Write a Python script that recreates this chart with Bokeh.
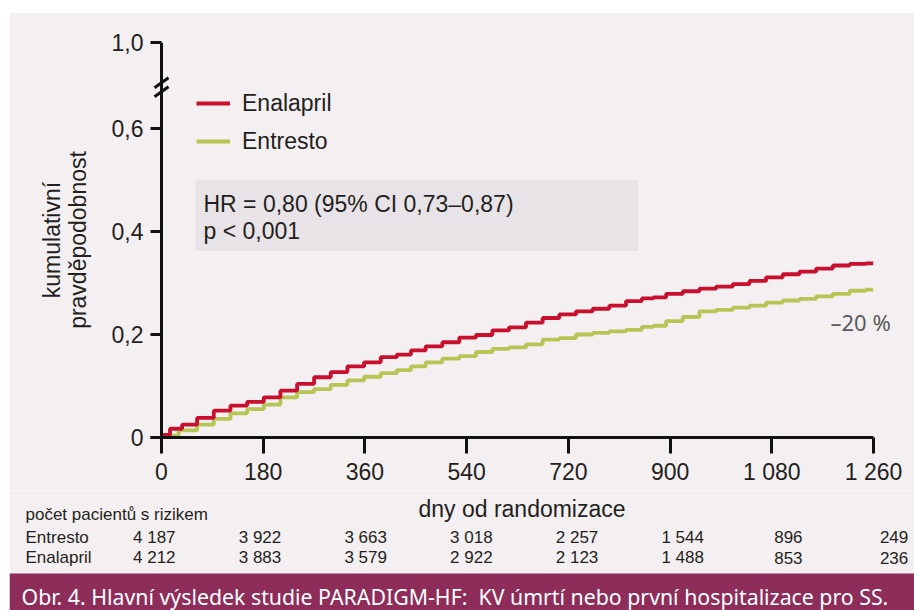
from bokeh.plotting import figure
from bokeh.models import (Range1d, FixedTicker, Legend, LegendItem, BoxAnnotation, Span, LinearAxis, Spacer)
from bokeh.layouts import column, row
from bokeh.core.properties import value
from bokeh.embed import file_html
from bokeh.resources import INLINE

# ---------------- data ----------------
enalapril_days = [0, 5, 25, 48, 78, 107, 137, 166, 196, 225, 255, 285, 314, 344, 373, 403, 430, 453, 482, 512,
                  542, 571, 600, 630, 660, 689, 719, 748, 778, 807, 837, 863, 878, 908, 937, 967, 996, 1026, 1055,
                  1085, 1114, 1144, 1173, 1203, 1233, 1260]
enalapril_prob = [0.0, 0.005, 0.017, 0.025, 0.038, 0.052, 0.062, 0.069, 0.078, 0.091, 0.104, 0.117, 0.127, 0.138,
                  0.146, 0.156, 0.161, 0.169, 0.177, 0.185, 0.194, 0.199, 0.208, 0.214, 0.223, 0.232, 0.239, 0.245,
                  0.250, 0.256, 0.265, 0.270, 0.272, 0.279, 0.284, 0.289, 0.293, 0.298, 0.304, 0.311, 0.317, 0.322,
                  0.328, 0.334, 0.337, 0.338]
entresto_days = [0, 13, 48, 78, 107, 137, 166, 196, 225, 255, 285, 314, 344, 373, 403, 430, 453, 482, 512, 542,
                 571, 600, 630, 660, 689, 719, 748, 778, 807, 837, 863, 878, 908, 937, 967, 996, 1026, 1055, 1085,
                 1114, 1144, 1173, 1203, 1233, 1260]
entresto_prob = [0.0, 0.004, 0.014, 0.025, 0.036, 0.047, 0.055, 0.064, 0.078, 0.088, 0.094, 0.102, 0.111, 0.118,
                 0.125, 0.131, 0.138, 0.146, 0.153, 0.158, 0.166, 0.172, 0.175, 0.181, 0.190, 0.193, 0.200, 0.203,
                 0.206, 0.209, 0.215, 0.217, 0.226, 0.234, 0.245, 0.248, 0.252, 0.256, 0.262, 0.266, 0.269, 0.274,
                 0.279, 0.285, 0.287]

x_ticks = [0, 180, 360, 540, 720, 900, 1080, 1260]
x_tick_labels = ["0", "180", "360", "540", "720", "900", "1 080", "1 260"]
y_ticks = [0, 0.2, 0.4, 0.6]
y_tick_labels = ["0", "0,2", "0,4", "0,6"]
y_top_label = "1,0"

risk_days = [0, 180, 360, 540, 720, 900, 1080, 1260]
risk_entresto = ["4 187", "3 922", "3 663", "3 018", "2 257", "1 544", "896", "249"]
risk_enalapril = ["4 212", "3 883", "3 579", "2 922", "2 123", "1 488", "853", "236"]

hr_lines = ["HR = 0,80 (95% CI 0,73–0,87)", "p < 0,001"]
reduction_text = "–20 %"
reduction_at = 0.225
caption = "Obr. 4. Hlavní výsledek studie PARADIGM-HF:\u00a0 KV úmrtí nebo první hospitalizace pro SS."

# ---------------- styles / layout ----------------
PANEL = "#f4eff1"
BOX = "#e8e3e6"
INK = "#231f20"
AXIS = "#111111"
RED = "#c8102e"
GREEN = "#b5c655"
BANNER = "#8e2d5a"
FONT = "Liberation Sans"
Y_TOP = 0.767            # position of the broken-axis "1,0" tick
PX_PER_DAY = 712 / 1260
PX_PER_UNIT = 395 / Y_TOP
X0 = -11 / PX_PER_DAY    # frame starts a little left of day 0 (room for tick marks / axis break)

W = 905
p = figure(width=W, height=478, x_range=Range1d(X0, 1260), y_range=Range1d(0, Y_TOP),
           min_border_left=141, min_border_right=41, min_border_top=30, min_border_bottom=53,
           toolbar_location=None, output_backend="svg")
p.frame_align = False
p.background_fill_color = PANEL
p.border_fill_color = PANEL
p.outline_line_color = None
p.xgrid.visible = False
p.ygrid.visible = False

# HR box
p.add_layout(BoxAnnotation(left=34 / PX_PER_DAY, right=477 / PX_PER_DAY,
                           bottom=186.6 / PX_PER_UNIT, top=257.3 / PX_PER_UNIT,
                           fill_color=BOX, fill_alpha=1, line_color=None, level="underlay"))
p.text(x=[42 / PX_PER_DAY] * 2, y=[233.7 / PX_PER_UNIT, 206.1 / PX_PER_UNIT], text=hr_lines,
       text_font=value(FONT), text_font_size="23px", text_color=INK, text_baseline="middle")

r_entr = p.step(entresto_days, entresto_prob, mode="center", line_color=GREEN, line_width=3.8)
r_enal = p.step(enalapril_days, enalapril_prob, mode="center", line_color=RED, line_width=3.8)

legend = Legend(items=[LegendItem(label="Enalapril", renderers=[r_enal]),
                       LegendItem(label="Entresto", renderers=[r_entr])],
                location=(46, 282), glyph_width=34, glyph_height=28, label_height=28,
                label_standoff=12, spacing=10, padding=0, margin=0,
                background_fill_alpha=0, border_line_color=None,
                label_text_font=FONT, label_text_font_size="23px", label_text_color=INK)
p.add_layout(legend)

# y axis line at day 0 and axis-break marks
p.add_layout(Span(location=0, dimension="height", line_width=3, line_color=AXIS))
brk = [354.8 / PX_PER_UNIT, 345.8 / PX_PER_UNIT]
p.segment(x0=[-7 / PX_PER_DAY] * 2, x1=[7 / PX_PER_DAY] * 2,
          y0=[b - 5 / PX_PER_UNIT for b in brk], y1=[b + 5 / PX_PER_UNIT for b in brk],
          line_width=3, line_color=AXIS)

# axes
xa = p.xaxis[0]
ya = p.yaxis[0]
xa.ticker = FixedTicker(ticks=x_ticks)
xa.major_label_overrides = dict(zip(x_ticks, x_tick_labels))
ya.ticker = FixedTicker(ticks=y_ticks + [Y_TOP])
ov = dict(zip(y_ticks, y_tick_labels))
ov[Y_TOP] = y_top_label
ya.major_label_overrides = ov
for ax in (xa, ya):
    ax.axis_line_width = 3
    ax.axis_line_color = AXIS
    ax.major_tick_line_width = 3
    ax.major_tick_line_color = AXIS
    ax.minor_tick_line_color = None
    ax.major_label_text_font = FONT
    ax.major_label_text_font_size = "23px"
    ax.major_label_text_color = INK
xa.major_tick_in = 0
xa.major_tick_out = 16
xa.major_label_standoff = 5
ya.axis_line_color = None
ya.major_tick_in = 11
ya.major_tick_out = 0
ya.major_label_standoff = 7
ya.axis_label = "kumulativní\npravděpodobnost"
ya.axis_label_text_font = FONT
ya.axis_label_text_font_size = "23px"
ya.axis_label_text_font_style = "normal"
ya.axis_label_text_line_height = 1.0
ya.axis_label_text_color = INK
ya.axis_label_standoff = 18

# "-20 %" annotation at the right end of the curves
ra = LinearAxis(ticker=FixedTicker(ticks=[reduction_at]),
                major_label_overrides={reduction_at: reduction_text},
                axis_line_color=None, major_tick_line_color=None, minor_tick_line_color=None,
                major_tick_in=0, major_tick_out=0, major_label_standoff=-43,
                major_label_text_font="Noto Sans", major_label_text_font_size="22px",
                major_label_text_color="#58595b")
p.add_layout(ra, "right")

# ---------------- risk table + caption (page coordinates) ----------------
t = figure(width=W, height=120, x_range=Range1d(9, 914), y_range=Range1d(610, 490),
           x_axis_type=None, y_axis_type=None, min_border=0,
           toolbar_location=None, output_backend="svg")
t.frame_align = False
t.background_fill_color = PANEL
t.border_fill_color = PANEL
t.outline_line_color = None

t.text(x=[521.5], y=[508.7], text=["dny od randomizace"], text_font=value(FONT), text_font_size="23px",
       text_color=INK, text_align="center", text_baseline="middle")
t.text(x=[25, 25, 25], y=[514, 536.7, 557.3], text=["počet pacientů s rizikem", "Entresto", "Enalapril"],
       text_font=value(FONT), text_font_size="17px", text_color=INK, text_baseline="middle")
col_x = [153.8 + d * 105.68 / 180 for d in risk_days]
t.text(x=col_x, y=[536.7] * len(col_x), text=risk_entresto, text_font=value(FONT), text_font_size="17px",
       text_color=INK, text_align="center", text_baseline="middle")
t.text(x=col_x, y=[557.3] * len(col_x), text=risk_enalapril, text_font=value(FONT), text_font_size="17px",
       text_color=INK, text_align="center", text_baseline="middle")

t.quad(left=[9], right=[914], top=[573], bottom=[610], fill_color=BANNER, line_color=None)
t.text(x=[21], y=[595.5], text=[caption], text_font=value("Noto Sans"), text_font_size="21.3px",
       text_color="white", text_baseline="middle")

layout = column(Spacer(height=12), row(Spacer(width=9), column(p, t)))
open("out.html", "w").write(file_html(layout, INLINE))
